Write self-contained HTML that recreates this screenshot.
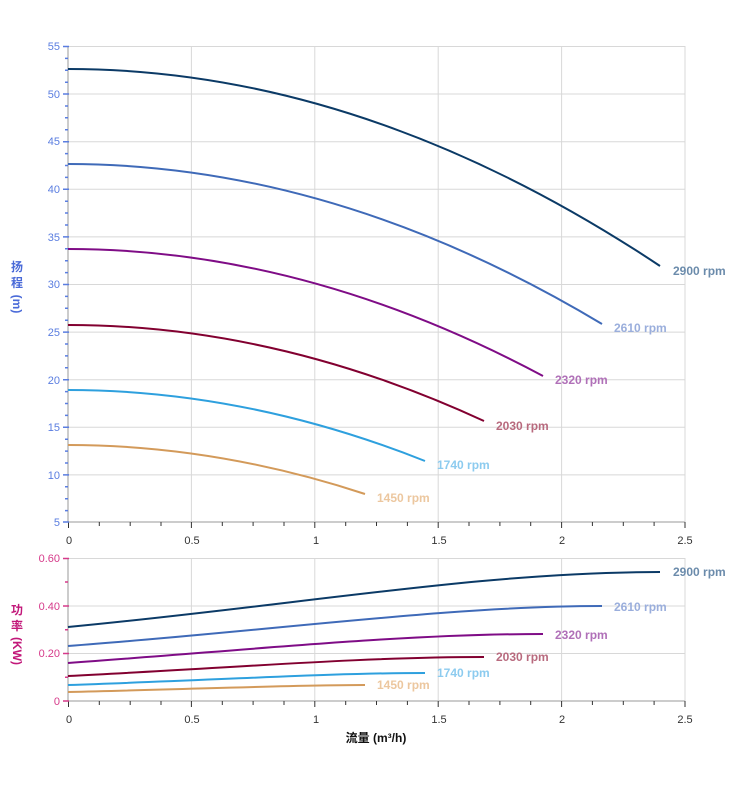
<!DOCTYPE html>
<html><head><meta charset="utf-8"><style>
html,body{margin:0;padding:0;background:#fff}
svg{display:block}
text{font-family:"Liberation Sans","Noto Sans CJK SC",sans-serif}
</style></head><body>
<svg width="752" height="797" viewBox="0 0 752 797" xmlns="http://www.w3.org/2000/svg">
<g stroke="#d8d8d8" stroke-width="1">
<line x1="68" y1="46.5" x2="685" y2="46.5"/><line x1="68" y1="94" x2="685" y2="94"/><line x1="68" y1="141.7" x2="685" y2="141.7"/><line x1="68" y1="189.3" x2="685" y2="189.3"/><line x1="68" y1="236.9" x2="685" y2="236.9"/><line x1="68" y1="284.5" x2="685" y2="284.5"/><line x1="68" y1="332.1" x2="685" y2="332.1"/><line x1="68" y1="379.7" x2="685" y2="379.7"/><line x1="68" y1="427.3" x2="685" y2="427.3"/><line x1="68" y1="474.9" x2="685" y2="474.9"/>
<line x1="191.4" y1="46" x2="191.4" y2="522"/><line x1="314.8" y1="46" x2="314.8" y2="522"/><line x1="438.2" y1="46" x2="438.2" y2="522"/><line x1="561.6" y1="46" x2="561.6" y2="522"/><line x1="685" y1="46" x2="685" y2="522"/>
<line x1="68" y1="558.5" x2="685" y2="558.5"/><line x1="68" y1="606" x2="685" y2="606"/><line x1="68" y1="653.5" x2="685" y2="653.5"/>
<line x1="191.4" y1="558" x2="191.4" y2="701"/><line x1="314.8" y1="558" x2="314.8" y2="701"/><line x1="438.2" y1="558" x2="438.2" y2="701"/><line x1="561.6" y1="558" x2="561.6" y2="701"/><line x1="685" y1="558" x2="685" y2="701"/>
</g>
<g stroke="#ccc" stroke-width="2"><line x1="68" y1="522" x2="685" y2="522"/><line x1="68" y1="701" x2="685" y2="701"/><line x1="68" y1="46" x2="68" y2="522"/><line x1="68" y1="558" x2="68" y2="701"/></g>
<g stroke="#333" stroke-width="1">
<path d="M68.5 522v6M99.3 522v4M130.2 522v4M161 522v4M191.4 522v6M222.3 522v4M253.1 522v4M284 522v4M314.8 522v6M345.7 522v4M376.5 522v4M407.4 522v4M438.2 522v6M469 522v4M499.9 522v4M530.7 522v4M561.6 522v6M592.4 522v4M623.3 522v4M654.1 522v4M685 522v6"/>
<path d="M68.5 701v6M99.3 701v4M130.2 701v4M161 701v4M191.4 701v6M222.3 701v4M253.1 701v4M284 701v4M314.8 701v6M345.7 701v4M376.5 701v4M407.4 701v4M438.2 701v6M469 701v4M499.9 701v4M530.7 701v4M561.6 701v6M592.4 701v4M623.3 701v4M654.1 701v4M685 701v6"/>
</g>
<g stroke="#5a7de0" stroke-width="1.5">
<path d="M63 46.5h6M63 94h6M63 141.7h6M63 189.3h6M63 236.9h6M63 284.5h6M63 332.1h6M63 379.7h6M63 427.3h6M63 474.9h6M63 522h6"/>
<path d="M65 58.4h3M65 70.3h3M65 82.2h3M65 106h3M65 117.8h3M65 129.8h3M65 153.6h3M65 165.5h3M65 177.4h3M65 201.2h3M65 213h3M65 225h3M65 248.8h3M65 260.7h3M65 272.6h3M65 296.4h3M65 308.3h3M65 320.2h3M65 344h3M65 355.9h3M65 367.8h3M65 391.6h3M65 403.5h3M65 415.4h3M65 439.2h3M65 451.1h3M65 463h3M65 486.8h3M65 498.7h3M65 510.6h3"/>
</g>
<g stroke="#d63a8a" stroke-width="1.5">
<path d="M63 558.5h6M63 606h6M63 653.5h6M63 701h6M65 582h3M65 629.7h3M65 677.3h3"/>
</g>
<g font-size="11" fill="#5a7de0" text-anchor="end">
<text x="60" y="50">55</text><text x="60" y="98">50</text><text x="60" y="145">45</text><text x="60" y="193">40</text><text x="60" y="241">35</text><text x="60" y="288">30</text><text x="60" y="336">25</text><text x="60" y="384">20</text><text x="60" y="431">15</text><text x="60" y="479">10</text><text x="60" y="526">5</text>
</g>
<g font-size="11" fill="#d63a8a" text-anchor="end">
<text x="60" y="562">0.60</text><text x="60" y="610">0.40</text><text x="60" y="657">0.20</text><text x="60" y="705">0</text>
</g>
<g font-size="11" fill="#333" text-anchor="middle">
<text x="69" y="544">0</text><text x="192" y="544">0.5</text><text x="316" y="544">1</text><text x="439" y="544">1.5</text><text x="562" y="544">2</text><text x="685" y="544">2.5</text>
<text x="69" y="723">0</text><text x="192" y="723">0.5</text><text x="316" y="723">1</text><text x="439" y="723">1.5</text><text x="562" y="723">2</text><text x="685" y="723">2.5</text>
</g>
<g font-size="12" font-weight="bold" fill="#4a6ad8" text-anchor="middle">
<text x="17" y="271">扬</text><text x="17" y="287">程</text>
<text x="17" y="308" transform="rotate(90 17 304)">(m)</text>
</g>
<g font-size="12" font-weight="bold" fill="#c2187a" text-anchor="middle">
<text x="17" y="614">功</text><text x="17" y="630">率</text>
<text x="17" y="655" transform="rotate(90 17 651)">(KW)</text>
</g>
<text x="376" y="742" font-size="12" font-weight="bold" fill="#111" text-anchor="middle">流量 (m³/h)</text>
<g fill="none" stroke-width="2">
<path d="M68 69Q364 69 660 266" stroke="#0b3a66"/>
<path d="M68 164Q335 164 602 324" stroke="#3f6ab8"/>
<path d="M68 249Q305 249 543 376" stroke="#7f0c86"/>
<path d="M68 325Q276 325 484 421" stroke="#820030"/>
<path d="M68 390Q246 390 425 461" stroke="#2ea0de"/>
<path d="M68 445Q216 445 365 494" stroke="#d39a5a"/>
<path d="M68 627C300 605 480 572 660 572" stroke="#0b3a66"/>
<path d="M68 646C280 630 450 606 602 606" stroke="#3f6ab8"/>
<path d="M68 663C250 650 400 634 543 634" stroke="#7f0c86"/>
<path d="M68 676C230 668 360 657 484 657" stroke="#820030"/>
<path d="M68 685C220 680 330 673 425 673" stroke="#2ea0de"/>
<path d="M68 692C200 689 290 685 365 685" stroke="#d39a5a"/>
</g>
<g font-size="12" font-weight="bold">
<text x="673" y="275" fill="#6b8bab">2900 rpm</text>
<text x="614" y="332" fill="#9aaedc">2610 rpm</text>
<text x="555" y="384" fill="#b070b8">2320 rpm</text>
<text x="496" y="430" fill="#b86a7e">2030 rpm</text>
<text x="437" y="469" fill="#8ccbef">1740 rpm</text>
<text x="377" y="502" fill="#ecc79f">1450 rpm</text>
<text x="673" y="576" fill="#6b8bab">2900 rpm</text>
<text x="614" y="611" fill="#9aaedc">2610 rpm</text>
<text x="555" y="639" fill="#b070b8">2320 rpm</text>
<text x="496" y="661" fill="#b86a7e">2030 rpm</text>
<text x="437" y="677" fill="#8ccbef">1740 rpm</text>
<text x="377" y="689" fill="#ecc79f">1450 rpm</text>
</g>
</svg>
</body></html>
